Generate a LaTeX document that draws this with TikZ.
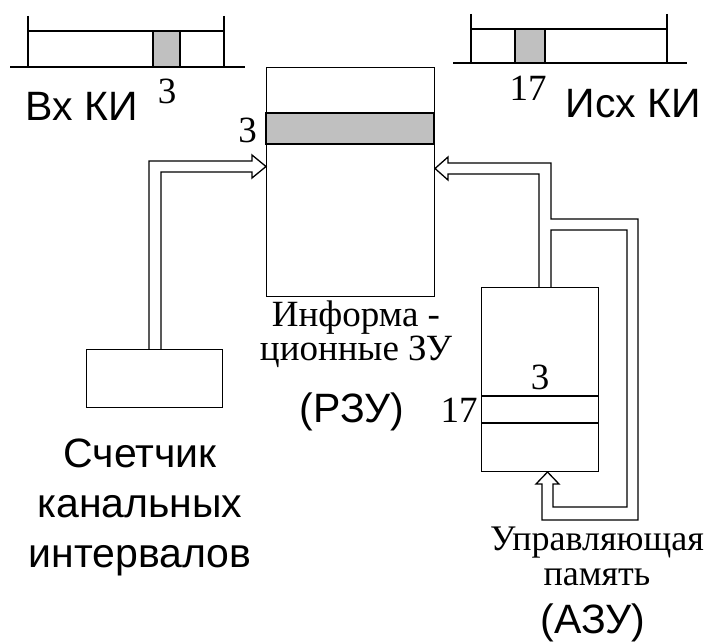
\documentclass[tikz,border=0pt]{standalone}
\usepackage{fontspec}
\setmainfont{Liberation Serif}
\newfontfamily\sansfont{Liberation Sans}
\usetikzlibrary{positioning}
\definecolor{slotgray}{HTML}{C0C0C0}
\tikzset{
  memblock/.style={draw,line width=1.3pt,inner sep=0pt,anchor=north west},
  sanslabel/.style={font=\sansfont\fontsize{41}{50}\selectfont,inner sep=0pt},
  seriflabel/.style={font=\fontsize{37}{32}\selectfont,inner sep=0pt},
  slotnum/.style={font=\fontsize{37}{37}\selectfont,inner sep=0pt,anchor=base}
}
\begin{document}
\begin{tikzpicture}[x=1pt,y=-1pt,line width=1.3pt]
\useasboundingbox (0,0) rectangle (714,642);
% Bloecke
\node[memblock,minimum width=168pt,minimum height=229pt] (rzu) at (266,67) {};
\node[memblock,minimum width=117pt,minimum height=184pt] (azu) at (481,287) {};
\node[memblock,minimum width=136pt,minimum height=58pt] (cnt) at (86,349) {};
% Eingaenge der Bloecke (Pfeilspitzen)
\coordinate (inL) at (266,166.5);
\coordinate (inR) at (435,168.5);
\coordinate (inA) at (547.5,472);
% Eingangs-Kanalintervalle
\draw (10,67) -- (245,67);
\draw (28,16) -- (28,67) (224,16) -- (224,67);
\draw (28,31) -- (224,31);
\draw[fill=slotgray] (153,31) rectangle (180,67);
% Ausgangs-Kanalintervalle
\draw (453,63) -- (687,63);
\draw (471,14) -- (471,63) (667,14) -- (667,63);
\draw (471,29) -- (667,29);
\draw[fill=slotgray] (515,29) rectangle (545,63);
% Zelle 3 im RZU
\draw[fill=slotgray] (rzu.north west) ++(0,46) rectangle (434,144);
% Zeilen im AZU
\draw (481,396) -- (598,396);
\draw (481,423) -- (598,423);
% Doppelleitung Zaehler -> RZU
\draw (149,349) -- (149,161) -- (252,161) -- ++(0,-6) -- (inL)
      -- (252,178) -- ++(0,-6) -- (161,172) -- (161,349);
% Doppelleitung AZU -> RZU mit Rueckfuehrung zum AZU
\draw (539,287) -- (539,174) -- (448,174) -- ++(0,6) -- (inR)
      -- (448,157) -- ++(0,6) -- (551,163) -- (551,219) -- (638,219)
      -- (638,520) -- (542,520) -- (542,484) -- ++(-6,0) -- (inA)
      -- (559,484) -- ++(-6,0) -- (553,507) -- (627,507) -- (627,230)
      -- (551,230) -- (551,287);
% Beschriftungen
\node[sanslabel,anchor=base west] (inlabel) at (25,120) {Вх КИ};
\node[sanslabel,anchor=base west] (outlabel) at (565,117) {Исх КИ};
\node[sanslabel,anchor=base] (rzuabbr) at (352,422) {(РЗУ)};
\node[sanslabel,anchor=base] (azuabbr) at (593,633) {(АЗУ)};
\node[sanslabel,align=center,anchor=base] (cntlabel) at (140,567)
     {Счетчик\\канальных\\интервалов};
\node[seriflabel,align=center,anchor=base] (rzuname) at (356,360)
     {Информа -\\ционные ЗУ};
\node[seriflabel,font=\fontsize{36}{35}\selectfont,align=center,anchor=base]
     (azuname) at (597,585) {Управляющая\\память};
% Nummern der Kanalintervalle
\node[slotnum] (numin) at (167,103) {3};
\node[slotnum] (numout) at (528,100) {17};
\node[slotnum] (numrzu) at (247.5,142) {3};
\node[slotnum] (numazu) at (540,389) {3};
\node[slotnum] (numazurow) at (459,422) {17};
\end{tikzpicture}
\end{document}
